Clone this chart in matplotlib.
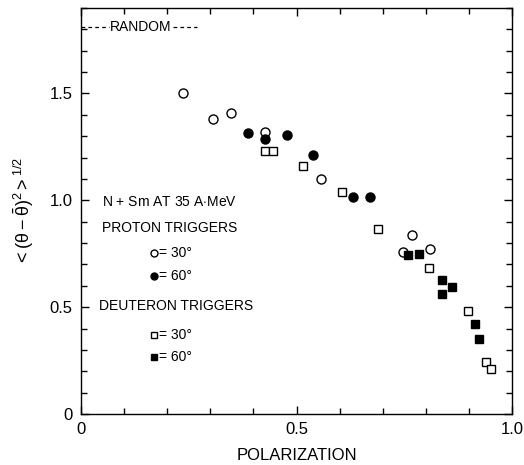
import matplotlib
matplotlib.use("Agg")
import matplotlib.pyplot as plt
from matplotlib.ticker import MultipleLocator

plt.rcParams['font.family'] = ['Liberation Sans', 'DejaVu Sans']
plt.rcParams['mathtext.fontset'] = 'custom'
plt.rcParams['mathtext.rm'] = 'Liberation Sans'
plt.rcParams['mathtext.it'] = 'Liberation Sans'

# proton triggers
p30_x = [0.236, 0.306, 0.347, 0.426, 0.558, 0.748, 0.769, 0.810]
p30_y = [1.50, 1.38, 1.41, 1.32, 1.10, 0.757, 0.836, 0.771]
p60_x = [0.387, 0.426, 0.477, 0.539, 0.630, 0.671]
p60_y = [1.313, 1.285, 1.304, 1.210, 1.014, 1.014]

# deuteron triggers
d30_x = [0.428, 0.445, 0.516, 0.606, 0.688, 0.808, 0.898, 0.940, 0.951]
d30_y = [1.229, 1.229, 1.159, 1.037, 0.864, 0.682, 0.481, 0.243, 0.210]
d60_x = [0.759, 0.785, 0.838, 0.861, 0.838, 0.914, 0.924]
d60_y = [0.743, 0.748, 0.626, 0.593, 0.561, 0.421, 0.350]

random_level = 1.81

fig = plt.figure(figsize=(5.24, 4.65), dpi=100)
ax = fig.add_axes([81/524, 1 - 414/465, 431/524, 406/465])

ax.plot(p30_x, p30_y, 'o', mfc='white', mec='black', mew=1.0, ms=6.5)
ax.plot(p60_x, p60_y, 'o', mfc='black', mec='black', ms=6.5)
ax.plot(d30_x, d30_y, 's', mfc='white', mec='black', mew=1.0, ms=5.5)
ax.plot(d60_x, d60_y, 's', mfc='black', mec='black', ms=6)

# random level marker
ax.plot([0.0, 0.065], [random_level] * 2, color='black', lw=0.9, ls=(0, (3, 2.5)))
ax.plot([0.213, 0.27], [random_level] * 2, color='black', lw=0.9, ls=(0, (3, 2.5)))
ax.text(0.068, random_level, 'RANDOM', fontsize=10, va='center', ha='left')

ax.set_xlim(0, 1.0)
ax.set_ylim(0, 1.9)
ax.xaxis.set_minor_locator(MultipleLocator(0.1))
ax.yaxis.set_minor_locator(MultipleLocator(0.1))
ax.set_xticks([0, 0.5, 1.0])
ax.set_xticklabels(['0', '0.5', '1.0'])
ax.set_yticks([0, 0.5, 1.0, 1.5])
ax.set_yticklabels(['0', '0.5', '1.0', '1.5'])
ax.tick_params(which='both', direction='in', top=True, right=True, width=1.0)
ax.tick_params(which='major', length=6, labelsize=12, pad=6)
ax.tick_params(which='minor', length=4)
for s in ax.spines.values():
    s.set_linewidth(1.0)

ax.set_xlabel('POLARIZATION', fontsize=12, labelpad=8)
ax.set_ylabel(r'$<(\theta-\bar{\theta})^{2}>^{1/2}$', fontsize=13, labelpad=10)

# key
tr = ax.transAxes
ax.text(0.049, 0.522, 'N + Sm AT 35 A$\\cdot$MeV', transform=tr, fontsize=10, va='center')
ax.text(0.049, 0.458, 'PROTON TRIGGERS', transform=tr, fontsize=10, va='center')
ax.text(0.042, 0.266, 'DEUTERON TRIGGERS', transform=tr, fontsize=10, va='center')
keys = [('o', 'white', 0.397), ('o', 'black', 0.340), ('s', 'white', 0.195), ('s', 'black', 0.140)]
labels = ['= 30°', '= 60°', '= 30°', '= 60°']
for (m, fc, y), lab in zip(keys, labels):
    ax.plot([0.169], [y], m, mfc=fc, mec='black', ms=5, mew=1.0, transform=tr, clip_on=False)
    ax.text(0.182, y, lab, transform=tr, fontsize=10, va='center')

fig.savefig('out.png', dpi=100)
